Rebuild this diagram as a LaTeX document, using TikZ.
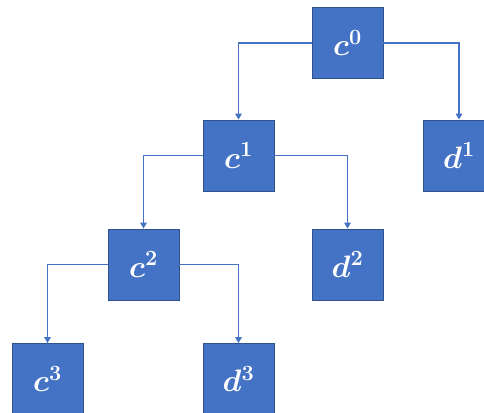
\documentclass[tikz,border=0pt]{standalone}
\usepackage{fix-cm}
\usepackage{amsmath}
\usepackage{bm}
\usetikzlibrary{arrows.meta}
\definecolor{boxblue}{HTML}{4472C4}
\definecolor{boxedge}{HTML}{2F528F}
\tikzstyle{var} = [draw=boxedge, fill=boxblue, line width=0.8pt, minimum size=71pt, inner sep=0pt, text=white, font={\fontsize{31}{34}\selectfont}]
\tikzstyle{link} = [draw=boxblue, line width=1.6pt, -{Triangle[length=6pt,width=6.5pt]}]

\begin{document}
\begin{tikzpicture}[x=1pt,y=-1pt]
  \useasboundingbox (0,0) rectangle (484,412);
  \clip (0,0) rectangle (484,412);
  \node[var](c0) at (347.5,43){$\bm{c^0}$};
  \node[var](c1) at (238.5,155.5){$\bm{c^1}$};
  \node[var](d1) at (459,155.5){$\bm{d^1}$};
  \node[var](c2) at (143.5,264.5){$\bm{c^2}$};
  \node[var](d2) at (347.5,264.5){$\bm{d^2}$};
  \node[var](c3) at (47.5,379){$\bm{c^3}$};
  \node[var](d3) at (238.5,379){$\bm{d^3}$};
  \draw[link](c0.west) -| (c1.north);
  \draw[link](c0.east) -| (d1.north);
  \draw[link](c1.west) -| (c2.north);
  \draw[link](c1.east) -| (d2.north);
  \draw[link](c2.west) -| (c3.north);
  \draw[link](c2.east) -| (d3.north);
\end{tikzpicture}
\end{document}
